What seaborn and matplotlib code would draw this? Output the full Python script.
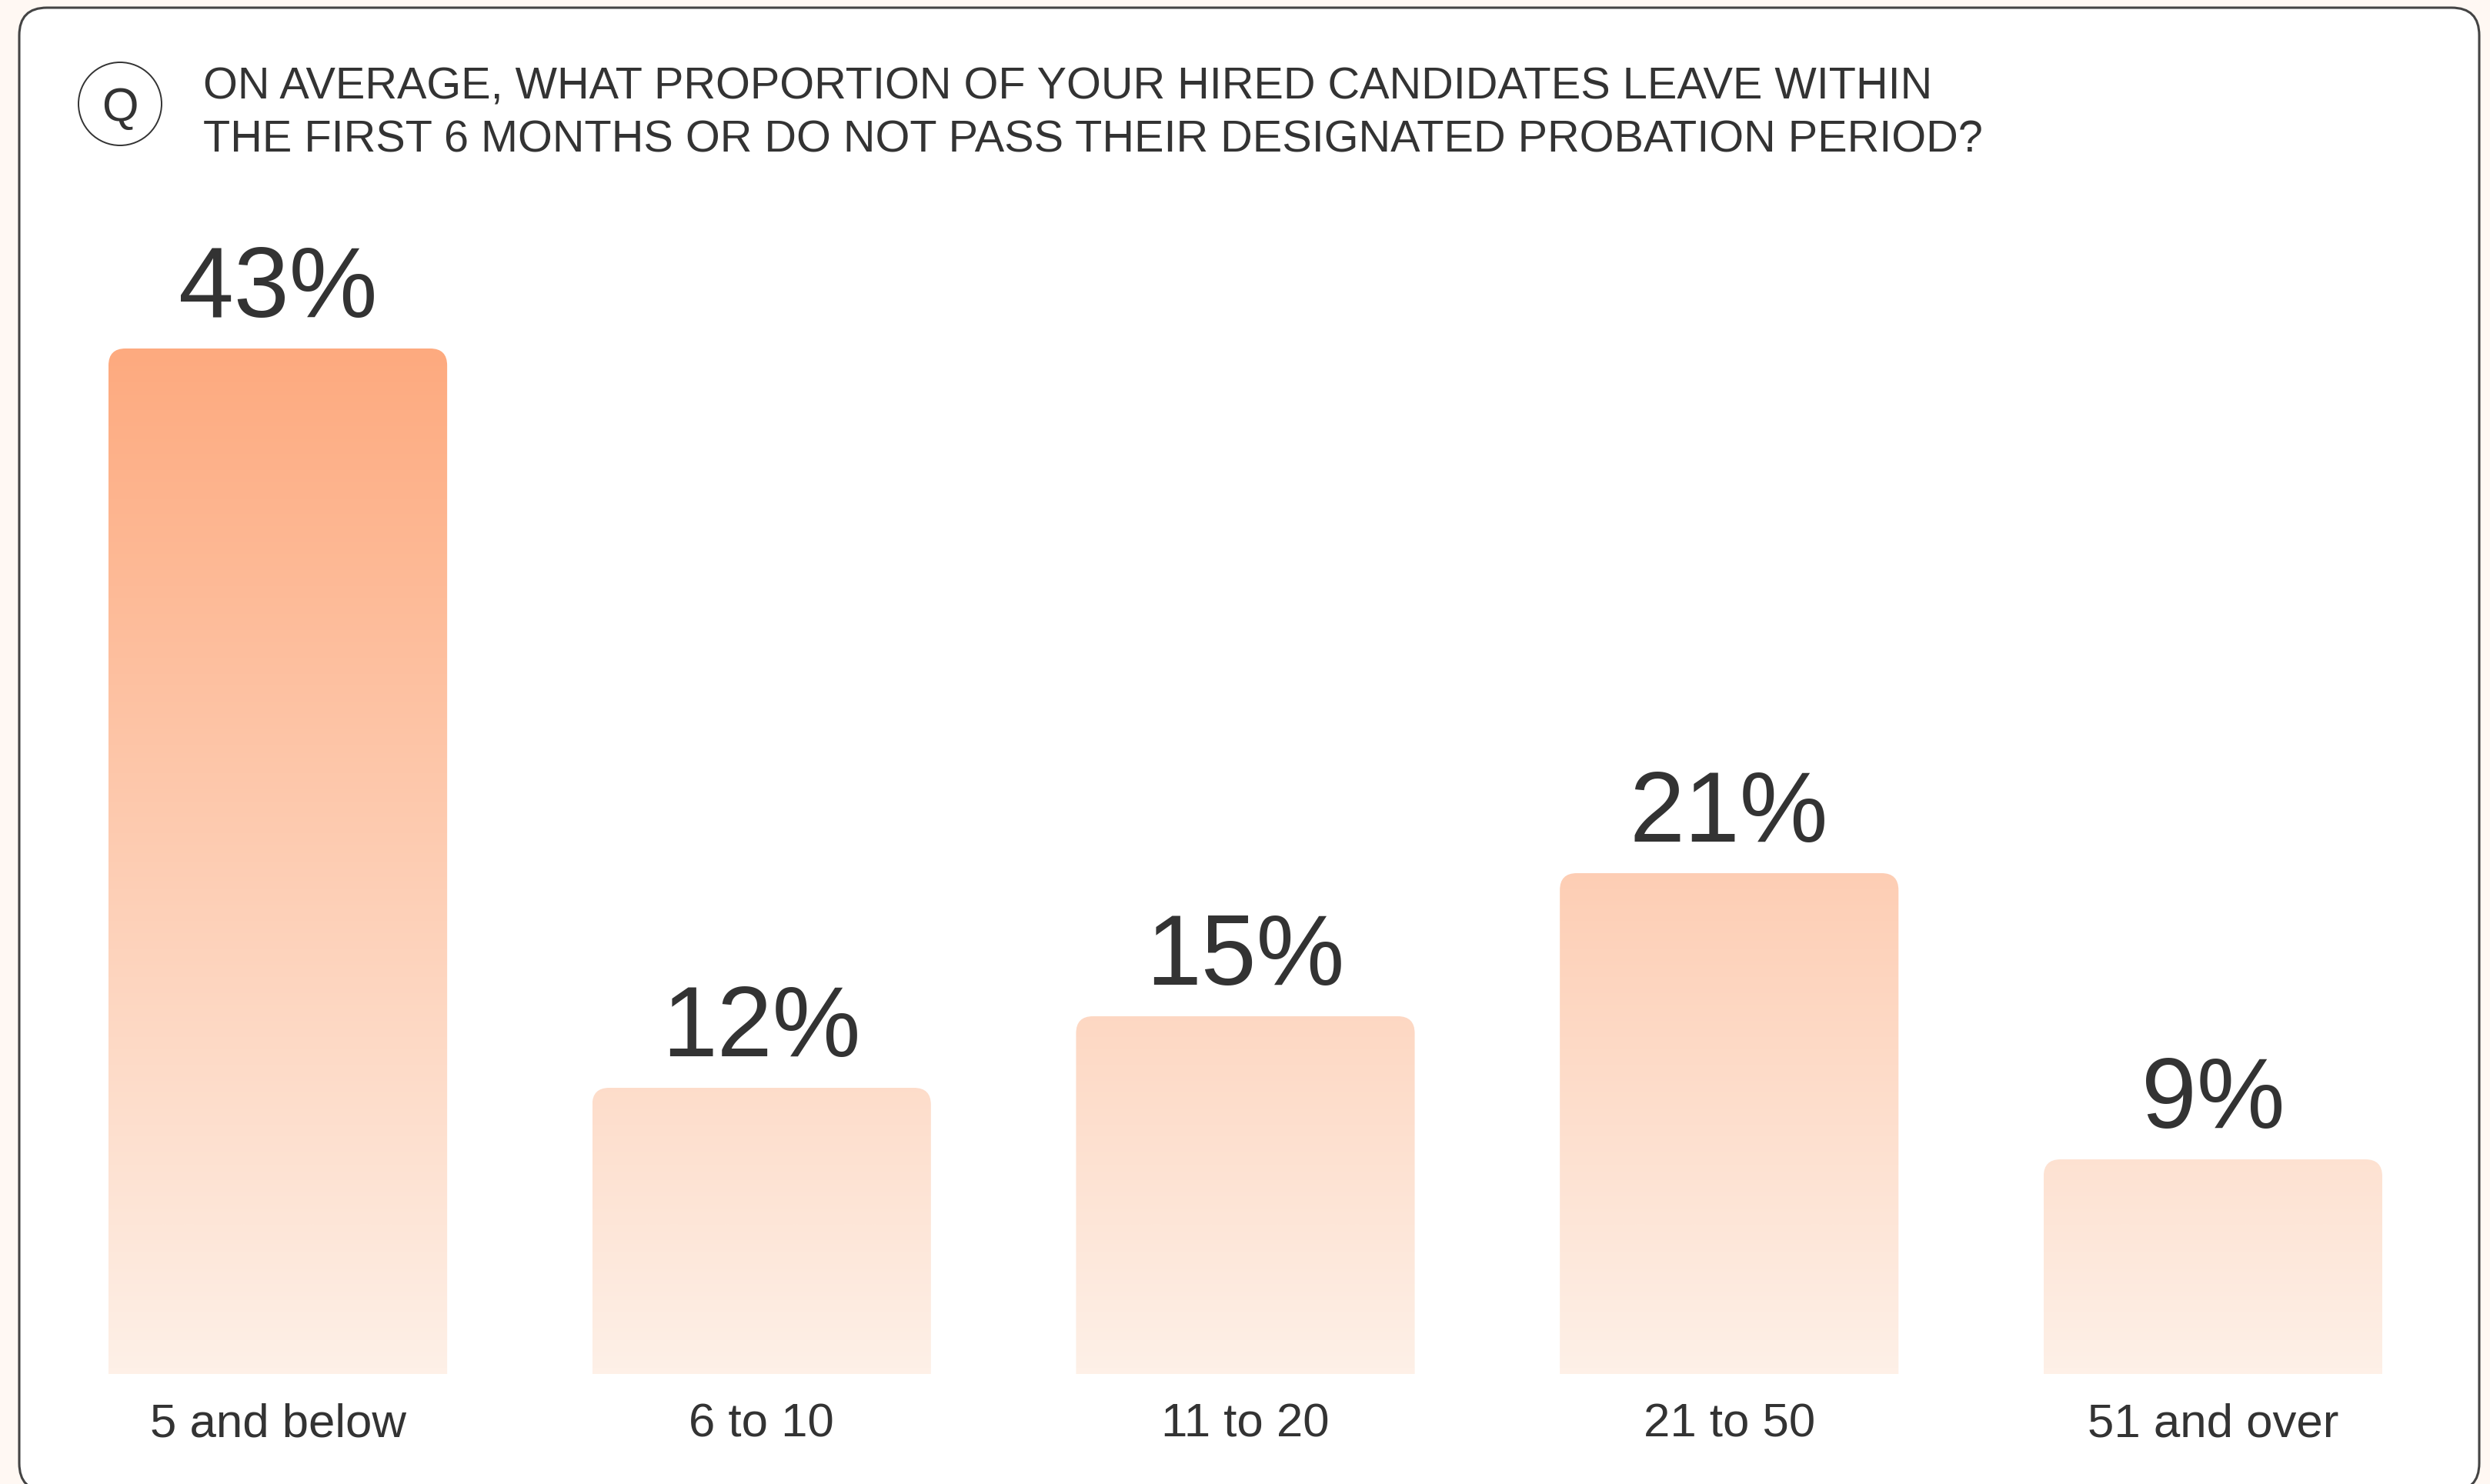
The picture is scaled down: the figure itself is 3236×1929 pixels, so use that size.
import numpy as np
import pandas as pd
import matplotlib
matplotlib.use("Agg")
import matplotlib.pyplot as plt
import seaborn as sns
from matplotlib.patches import FancyBboxPatch, Circle
from matplotlib.colors import LinearSegmentedColormap

# ---- data ----
categories = ["5 and below", "6 to 10", "11 to 20", "21 to 50", "51 and over"]
values = [43, 12, 15, 21, 9]
value_labels = ["43%", "12%", "15%", "21%", "9%"]
title_lines = ["ON AVERAGE, WHAT PROPORTION OF YOUR HIRED CANDIDATES LEAVE WITHIN",
               "THE FIRST 6 MONTHS OR DO NOT PASS THEIR DESIGNATED PROBATION PERIOD?"]

sns.set_theme(style="white")
FONT = ["Liberation Sans", "DejaVu Sans"]
plt.rcParams["font.family"] = FONT
TXT = "#333333"

W, H, DPI = 3237, 1929, 100
fig = plt.figure(figsize=(W / DPI, H / DPI), dpi=DPI)
fig.patch.set_facecolor("#FFF8F3")

# card
card = FancyBboxPatch((25 / DPI, (H - 1938) / DPI), (3222 - 25) / DPI, (1938 - 10) / DPI,
                      boxstyle="round,pad=0,rounding_size=0.36",
                      transform=fig.dpi_scale_trans, facecolor="white",
                      edgecolor="#444444", linewidth=2.2, zorder=-5)
fig.add_artist(card)

# axes
x_left = 361 - 628.6 / 2
x_right = 2876 + 628.6 / 2
base_y = 1786
ymax = 50
px_per_unit = 31.0
ax = fig.add_axes([x_left / W, 1 - base_y / H, (x_right - x_left) / W, ymax * px_per_unit / H])
ax.set_facecolor("none")

df = pd.DataFrame({"cat": categories, "val": values})
sns.barplot(data=df, x="cat", y="val", ax=ax, width=0.70, color="#FDAA80",
            errorbar=None, saturation=1)
ax.set_xlim(-0.5, 4.5)
ax.set_ylim(0, ymax)

cmap = LinearSegmentedColormap.from_list("grad", ["#FEF0E7", "#FDAA7F"])
vmax = max(values)
grad = np.linspace(0, 1, 256).reshape(-1, 1)
unit_x = (x_right - x_left) / 5.0
aspect = unit_x / px_per_unit
r_x = 22 / unit_x

for p in list(ax.patches):
    x0, w, h = p.get_x(), p.get_width(), p.get_height()
    p.set_visible(False)
    rp = FancyBboxPatch((x0, -2 * r_x * aspect), w, h + 2 * r_x * aspect,
                        boxstyle=f"round,pad=0,rounding_size={r_x}",
                        mutation_aspect=aspect, facecolor="none", edgecolor="none",
                        transform=ax.transData)
    ax.add_patch(rp)
    im = ax.imshow(grad, cmap=cmap, origin="lower", aspect="auto",
                   extent=(x0, x0 + w, 0, vmax), interpolation="bicubic", zorder=2)
    im.set_clip_path(rp)

ax.set_xlim(-0.5, 4.5)
ax.set_ylim(0, ymax)

for i, (v, lab) in enumerate(zip(values, value_labels)):
    ax.annotate(lab, xy=(i, v), xytext=(0, 29.5), textcoords="offset points",
                ha="center", va="baseline", fontsize=93, color=TXT, zorder=5)

ax.set_xticks(range(len(categories)))
ax.set_xticklabels(categories, fontsize=44.5, color=TXT)
ax.tick_params(axis="x", length=0, pad=27)
ax.set_yticks([])
ax.set_xlabel("")
ax.set_ylabel("")
for s in ax.spines.values():
    s.set_visible(False)

# title
fig.text(264 / W, 1 - 129 / H, title_lines[0], fontsize=41.5, color=TXT,
         ha="left", va="baseline")
fig.text(264 / W, 1 - 197 / H, title_lines[1], fontsize=41.5, color=TXT,
         ha="left", va="baseline")

# Q circle
circ = Circle((156 / DPI, (H - 135) / DPI), 0.54, transform=fig.dpi_scale_trans,
              facecolor="none", edgecolor="#333333", linewidth=1.4)
fig.add_artist(circ)
fig.text(156 / W, 1 - 135 / H, "Q", fontsize=44, color=TXT, ha="center",
         va="center_baseline")

fig.savefig("out.png", dpi=DPI, facecolor=fig.get_facecolor())
